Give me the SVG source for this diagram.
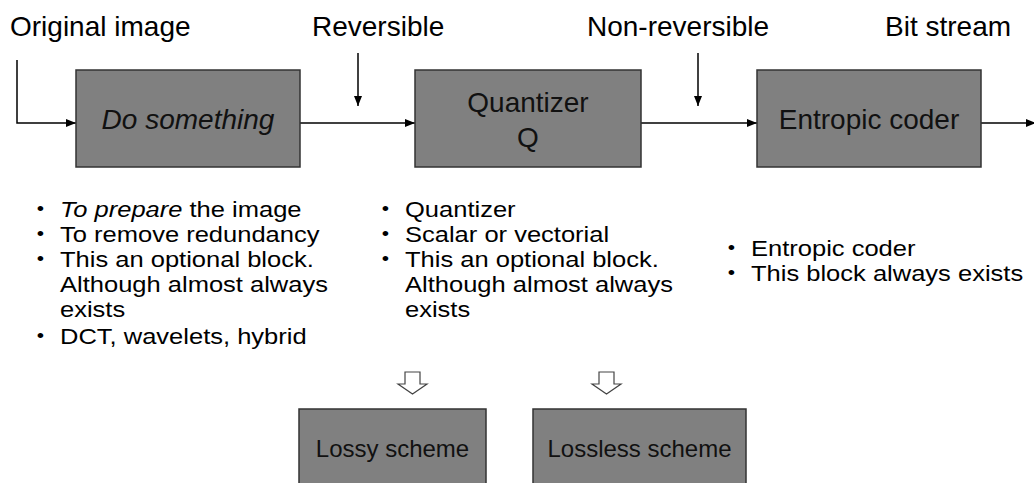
<svg xmlns="http://www.w3.org/2000/svg" width="1034" height="483" viewBox="0 0 1034 483">
<defs>
<style>
.box{fill:#808080;stroke:#333;stroke-width:1.5}
.lbl{font-family:"Liberation Sans",Arial,sans-serif;font-size:28px;fill:#000}
.btx{font-family:"Liberation Sans",Arial,sans-serif;font-size:28px;fill:#111;text-anchor:middle}
.sm{font-family:"Liberation Sans",Arial,sans-serif;font-size:24px;fill:#111;text-anchor:middle}
.bul{font-family:"Liberation Sans",Arial,sans-serif;font-size:22px;fill:#000}
.dot{font-family:"Liberation Sans",Arial,sans-serif;font-size:18px;fill:#000}
.ln{fill:none;stroke:#000;stroke-width:1.5}
.hol{fill:#fff;stroke:#444;stroke-width:1.2}
</style>
<marker id="ah" viewBox="0 0 10 8" refX="10" refY="4" markerWidth="10" markerHeight="8" markerUnits="userSpaceOnUse" orient="auto">
<path d="M0,0 L10,4 L0,8 Z" fill="#000"/>
</marker>
</defs>
<rect width="1034" height="483" fill="#fff"/>

<g id="labels">
<text class="lbl" x="10" y="36">Original image</text>
<text class="lbl" x="312" y="36">Reversible</text>
<text class="lbl" x="587" y="36">Non-reversible</text>
<text class="lbl" x="885" y="36">Bit stream</text>
</g>

<g id="connectors">
<path class="ln" d="M17,60 V123 H76" marker-end="url(#ah)"/>
<path class="ln" d="M300,123 H415" marker-end="url(#ah)"/>
<path class="ln" d="M641,123 H757" marker-end="url(#ah)"/>
<path class="ln" d="M981,123 H1036" marker-end="url(#ah)"/>
<path class="ln" d="M358,53 V106" marker-end="url(#ah)"/>
<path class="ln" d="M698,53 V106" marker-end="url(#ah)"/>
<path class="hol" d="M405,372 H420 V384 H427 L412.5,394 L398,384 H405 Z"/>
<path class="hol" d="M599,372 H614 V384 H621 L606.5,394 L592,384 H599 Z"/>
</g>

<g id="do-something">
<rect class="box" x="76" y="70" width="224" height="97"/>
<text class="btx" x="188" y="129" font-style="italic">Do something</text>
</g>
<g id="quantizer">
<rect class="box" x="415" y="70" width="226" height="97"/>
<text class="btx" x="528" y="112">Quantizer</text>
<text class="btx" x="528" y="147">Q</text>
</g>
<g id="entropic-coder">
<rect class="box" x="757" y="70" width="224" height="97"/>
<text class="btx" x="869" y="129">Entropic coder</text>
</g>
<g id="lossy">
<rect class="box" x="299" y="409" width="187" height="90"/>
<text class="sm" x="392.5" y="457">Lossy scheme</text>
</g>
<g id="lossless">
<rect class="box" x="533" y="409" width="213" height="90"/>
<text class="sm" x="639.5" y="457">Lossless scheme</text>
</g>

<g id="notes-1" transform="translate(60 0) scale(1.16 1)">
<text class="dot" x="-20" y="215">•</text>
<text class="bul" x="0" y="217"><tspan font-style="italic">To prepare</tspan> the image</text>
<text class="dot" x="-20" y="240">•</text>
<text class="bul" x="0" y="242">To remove redundancy</text>
<text class="dot" x="-20" y="265">•</text>
<text class="bul" x="0" y="267">This an optional block.</text>
<text class="bul" x="0" y="292">Although almost always</text>
<text class="bul" x="0" y="317">exists</text>
<text class="dot" x="-20" y="342">•</text>
<text class="bul" x="0" y="344">DCT, wavelets, hybrid</text>
</g>
<g id="notes-2" transform="translate(405 0) scale(1.16 1)">
<text class="dot" x="-20" y="215">•</text>
<text class="bul" x="0" y="217">Quantizer</text>
<text class="dot" x="-20" y="240">•</text>
<text class="bul" x="0" y="242">Scalar or vectorial</text>
<text class="dot" x="-20" y="265">•</text>
<text class="bul" x="0" y="267">This an optional block.</text>
<text class="bul" x="0" y="292">Although almost always</text>
<text class="bul" x="0" y="317">exists</text>
</g>
<g id="notes-3" transform="translate(751 0) scale(1.16 1)">
<text class="dot" x="-20" y="254">•</text>
<text class="bul" x="0" y="256">Entropic coder</text>
<text class="dot" x="-20" y="279">•</text>
<text class="bul" x="0" y="281">This block always exists</text>
</g>
</svg>
